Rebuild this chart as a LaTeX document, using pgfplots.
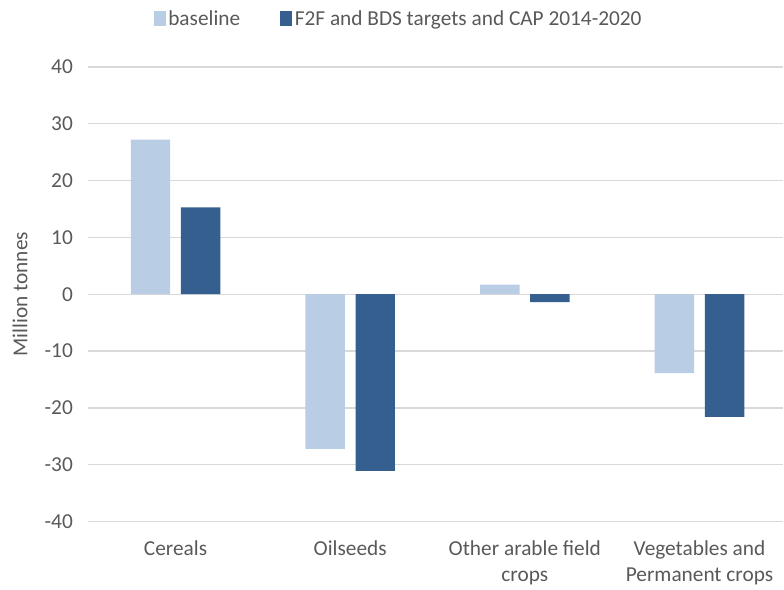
\documentclass[border=0pt]{standalone}
\usepackage{fontspec}
\setmainfont{Carlito}
\usepackage{pgfplots}
\pgfplotsset{compat=1.18}

\definecolor{baseblue}{HTML}{B9CDE5}
\definecolor{darkblue}{HTML}{355F8E}
\definecolor{gridgray}{HTML}{D9D9D9}
\definecolor{txtgray}{HTML}{595959}

\begin{document}
\begin{tikzpicture}
\begin{axis}[
    scale only axis,
    width=521.8pt,
    height=341.25pt,
    ybar=8pt,
    bar width=29.6pt,
    xmin=-0.5, xmax=3.48,
    ymin=-40, ymax=40,
    ytick={-40,-30,...,40},
    xtick=data,
    xticklabels={Cereals, Oilseeds, Other arable field\\crops, Vegetables and\\Permanent crops},
    major tick length=0pt,
    axis line style={draw=none},
    ymajorgrids,
    grid style={gridgray, line width=1pt},
    font=\fontsize{16}{19.5}\selectfont,
    tick label style={txtgray},
    /pgf/number format/assume math mode=true,
    yticklabel style={xshift=-8pt},
    xticklabel style={align=center, yshift=-11pt},
    ylabel={Million tonnes},
    ylabel style={txtgray, at={(axis description cs:-0.098,0.5)}, anchor=center},
    legend style={
        at={(axis description cs:0.447,1.105)}, anchor=center,
        draw=none, fill=none, text=txtgray,
        legend columns=2,
        /tikz/every even column/.append style={column sep=28pt},
    },
    legend image code/.code={\fill[#1] (0pt,-5pt) rectangle (9pt,6pt);},
]
\addplot[fill=baseblue, draw=none] coordinates {(0,27.2) (1,-27.2) (2,1.7) (3,-13.9)};
\addplot[fill=darkblue, draw=none] coordinates {(0,15.3) (1,-31.1) (2,-1.4) (3,-21.6)};
\legend{baseline, F2F and BDS targets and CAP 2014-2020}
\end{axis}
\path (current axis.south west) ++(-66.2pt,-51pt);
\path (current axis.north east) ++(0pt,50.25pt);
\end{tikzpicture}
\end{document}
